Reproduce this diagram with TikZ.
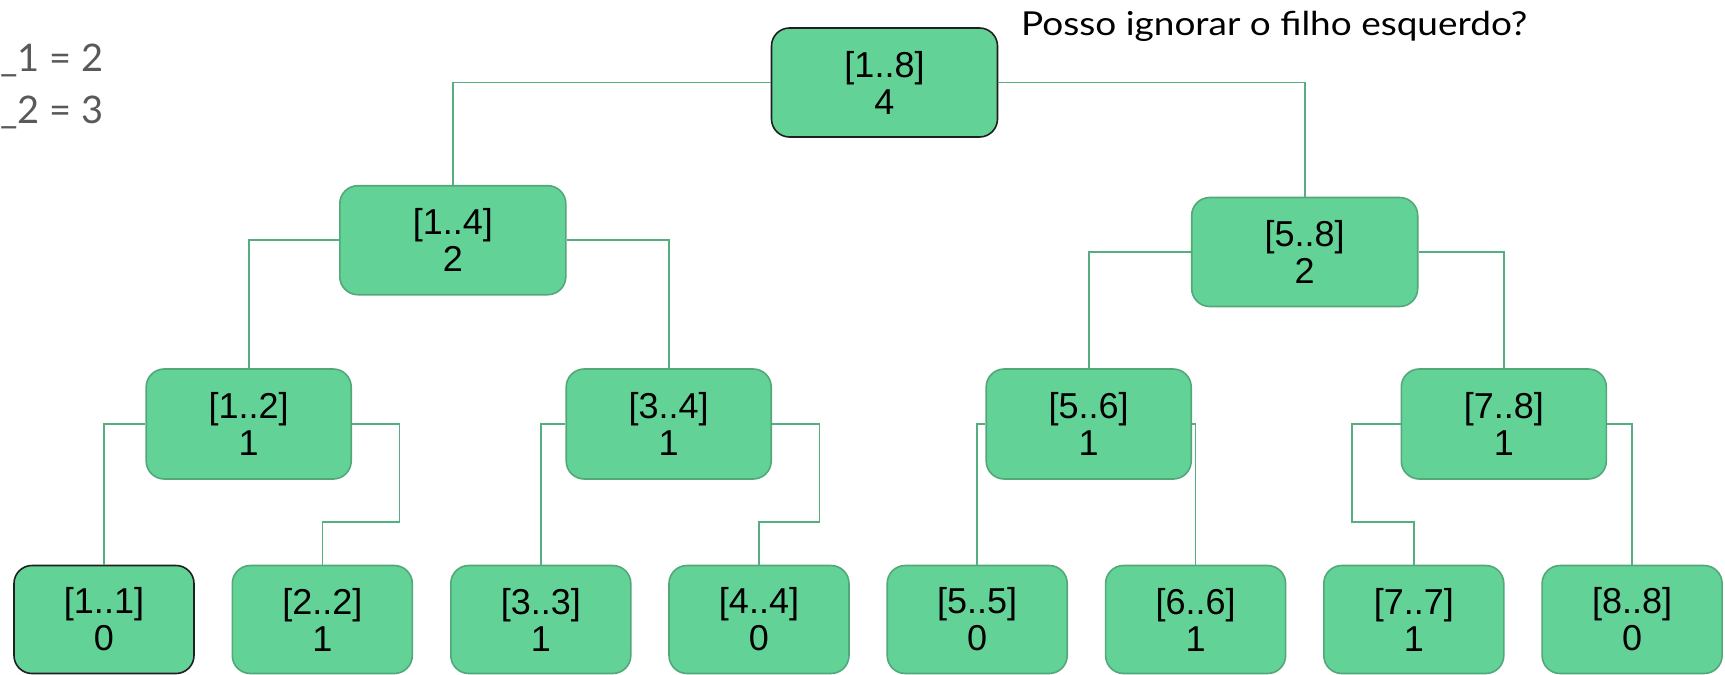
\documentclass[tikz,border=0pt]{standalone}
\usepackage{fontspec}
\setmainfont{Liberation Sans}
\newfontfamily\notefont{Lato}
\usetikzlibrary{calc}
\definecolor{boxfill}{HTML}{63D297}
\definecolor{boxline}{HTML}{52A878}
\definecolor{wirecol}{HTML}{55AE7E}
\definecolor{notecol}{HTML}{595959}

\begin{document}
\begin{tikzpicture}[x=1pt,y=-1pt,
  seg/.style={draw=boxline, fill=boxfill, line width=1.6pt, rounded corners=18pt,
    align=center, inner sep=0pt, font=\fontsize{36}{37}\selectfont},
  lvlA/.style={seg, minimum width=226pt, minimum height=109pt},
  lvlB/.style={seg, minimum width=205pt, minimum height=110pt},
  leaf/.style={seg, minimum width=180pt, minimum height=108pt},
  darkline/.style={draw=black!88},
  wire/.style={draw=wirecol, line width=1.6pt}]

\useasboundingbox (0,0) rectangle (1725,675);

% segment tree nodes: interval on top, count below
\node[lvlA, darkline] (r)   at (884.5,82.5)  {[1..8]\\4};
\node[lvlA] (n14) at (452.8,240.2) {[1..4]\\2};
\node[lvlA] (n58) at (1304.7,252)  {[5..8]\\2};

\node[lvlB] (n12) at (248.7,424)  {[1..2]\\1};
\node[lvlB] (n34) at (668.7,424)  {[3..4]\\1};
\node[lvlB] (n56) at (1088.7,424) {[5..6]\\1};
\node[lvlB] (n78) at (1503.8,424) {[7..8]\\1};

\node[leaf, darkline] (n11) at (104,619.5) {[1..1]\\0};
\node[leaf] (n22) at (322.3,619.5)  {[2..2]\\1};
\node[leaf] (n33) at (540.8,619.5)  {[3..3]\\1};
\node[leaf] (n44) at (759,619.5)    {[4..4]\\0};
\node[leaf] (n55) at (977.2,619.5)  {[5..5]\\0};
\node[leaf] (n66) at (1195.6,619.5) {[6..6]\\1};
\node[leaf] (n77) at (1413.8,619.5) {[7..7]\\1};
\node[leaf] (n88) at (1632.1,619.5) {[8..8]\\0};

% elbow connectors
\draw[wire] (r.west) -| (n14.north);
\draw[wire] (r.east) -| (n58.north);
\draw[wire] (n14.west) -| (n12.north);
\draw[wire] (n14.east) -| (n34.north);
\draw[wire] (n58.west) -| (n56.north);
\draw[wire] (n58.east) -| (n78.north);

\draw[wire] (n12.west) -| (n11.north);
\draw[wire] (n12.east) -- ++(47.6,0) |- ($(n22.north)+(0,-42.7)$) -- (n22.north);
\draw[wire] (n34.west) -| (n33.north);
\draw[wire] (n34.east) -- ++(47.6,0) |- ($(n44.north)+(0,-42.7)$) -- (n44.north);
\draw[wire] (n56.west) -| (n55.north);
\draw[wire] (n56.east) -| (n66.north);
\draw[wire] (n78.west) -- ++(-48.3,0) |- ($(n77.north)+(0,-42.7)$) -- (n77.north);
\draw[wire] (n78.east) -| (n88.north);

% notes
\node[anchor=base west, inner sep=0pt, text=notecol, font=\notefont\fontsize{38}{38}\selectfont] (k1) at (0,71.5) {\_1 = 2};
\node[anchor=base west, inner sep=0pt, text=notecol, font=\notefont\fontsize{38}{38}\selectfont] (k2) at (0,123) {\_2 = 3};
\node[anchor=base west, inner sep=0pt, font=\notefont\fontsize{33}{33}\selectfont] (q) at (1021,35)
  {\scalebox{1.12}[1]{Posso ignorar o filho esquerdo?}};
\end{tikzpicture}
\end{document}
